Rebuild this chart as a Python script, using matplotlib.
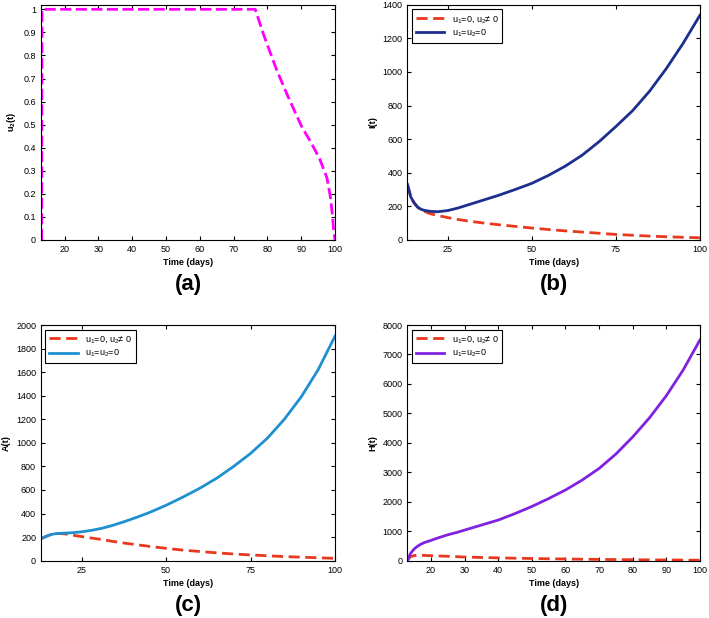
import numpy as np
import matplotlib
matplotlib.use("Agg")
import matplotlib.pyplot as plt

plt.rcParams.update({
    "font.family": ["Liberation Sans", "DejaVu Sans"],
    "mathtext.default": "regular",
    "font.size": 6.5,
    "axes.linewidth": 0.8,
    "xtick.direction": "in", "ytick.direction": "in",
    "xtick.top": True, "ytick.right": True,
    "xtick.major.size": 3, "ytick.major.size": 3,
})

# (a) control u2
T_U2 = [13.2, 13.3, 30, 50, 76.4, 79, 82.8, 86, 88, 90.2, 93, 95.5, 97.6, 98.6, 99.3, 99.6, 100]
U2 = [0.0, 1.0, 1.0, 1.0, 1.0, 0.885, 0.735, 0.625, 0.56, 0.49, 0.42, 0.35, 0.27, 0.19, 0.10, 0.04, 0.0]

# (b) I(t)
T_I = [13, 14, 15, 16, 17, 18, 20, 22, 25, 28, 32, 36, 40, 45, 50, 55, 60, 65, 70,
       75, 80, 85, 90, 95, 100]
I_NO = [330, 255, 220, 196, 183, 176, 170, 168, 175, 190, 215, 240, 265, 300, 337,
        385, 440, 505, 585, 675, 770, 885, 1020, 1170, 1337]
I_U2 = [330, 255, 220, 196, 180, 170, 155, 146, 133, 122, 110, 100, 91, 81, 71,
        62, 54, 47, 40, 33, 28, 23, 19, 16, 13]

# (c) A(t)
T_A = [13, 14, 15, 16, 17, 18, 20, 22, 25, 28, 31, 34, 37.5, 41, 45, 50, 55, 60, 65,
       70, 75, 80, 85, 90, 95, 100]
A_NO = [185, 200, 212, 222, 228, 231, 234, 237, 245, 258, 275, 298, 330, 365, 408,
        470, 540, 615, 700, 800, 910, 1040, 1200, 1390, 1620, 1905]
A_U2 = [185, 200, 212, 222, 228, 231, 228, 218, 205, 192, 180, 165, 150, 137, 122,
        105, 90, 78, 67, 57, 49, 42, 35, 30, 25, 20]

# (d) H(t)
T_H = [13, 13.5, 14, 15, 16, 17, 18, 20, 22, 25, 28, 30, 35, 40, 45, 50, 55, 60, 65,
       70, 75, 80, 85, 90, 95, 100]
H_NO = [0, 150, 260, 400, 490, 560, 615, 690, 770, 880, 970, 1040, 1210, 1380, 1600,
        1840, 2110, 2400, 2740, 3130, 3620, 4200, 4850, 5600, 6470, 7490]
H_U2 = [0, 90, 140, 175, 185, 183, 180, 170, 162, 150, 135, 125, 110, 97, 85,
        75, 66, 58, 51, 45, 39, 34, 29, 25, 21, 17]

RED = "#e8381e"
LAB_NO = "u$_1$=0, u$_2$\u2260 0"
LAB_BOTH = "u$_1$=u$_2$=0"

fig = plt.figure(figsize=(7.09, 6.18), dpi=100)
ax_a = fig.add_axes([0.0578, 0.6117, 0.4147, 0.3807])
ax_b = fig.add_axes([0.5747, 0.6117, 0.4125, 0.3807])
ax_c = fig.add_axes([0.0578, 0.0927, 0.4147, 0.3814])
ax_d = fig.add_axes([0.5747, 0.0927, 0.4125, 0.3814])

# (a)
ax_a.plot(T_U2, U2, "--", color="#ff00ff", lw=2, dashes=(4, 1.6))
ax_a.set_xlim(13, 100)
ax_a.set_ylim(0, 1.02)
ax_a.set_xticks(np.arange(20, 101, 10))
ax_a.set_yticks(np.arange(0, 1.01, 0.1), ["0", "0.1", "0.2", "0.3", "0.4", "0.5",
                                           "0.6", "0.7", "0.8", "0.9", "1"])
ax_a.set_ylabel("u$_2$(t)", fontweight="bold")

panels = [
    (ax_b, T_I, I_U2, I_NO, "#1c2f8f", "I(t)", (0, 1400), np.arange(0, 1401, 200), [25, 50, 75, 100]),
    (ax_c, T_A, A_U2, A_NO, "#1e90d2", "A(t)", (0, 2000), np.arange(0, 2001, 200), [25, 50, 75, 100]),
    (ax_d, T_H, H_U2, H_NO, "#8022e0", "H(t)", (0, 8000), np.arange(0, 8001, 1000), np.arange(20, 101, 10)),
]
for ax, t, y_u2, y_no, col, ylab, ylim, yt, xt in panels:
    ax.plot(t, y_u2, "--", color=RED, lw=2, dashes=(4, 2), label=LAB_NO)
    ax.plot(t, y_no, "-", color=col, lw=2, label=LAB_BOTH)
    ax.set_xlim(13, 100)
    ax.set_ylim(*ylim)
    ax.set_yticks(yt)
    ax.set_xticks(xt)
    ax.set_ylabel(ylab, fontweight="bold")
    leg = ax.legend(loc="upper left", fontsize=6.5, handlelength=3.2, fancybox=False,
                    edgecolor="black", framealpha=1, borderpad=0.4, labelspacing=0.3)
    leg.get_frame().set_linewidth(0.8)

for ax, lab in zip([ax_a, ax_b, ax_c, ax_d], ["(a)", "(b)", "(c)", "(d)"]):
    ax.set_xlabel("Time (days)", fontweight="bold", labelpad=3)
    ax.text(0.5, -0.19, lab, transform=ax.transAxes, ha="center", va="center",
            fontsize=16, fontweight="bold")

fig.savefig("out.png", dpi=100)
